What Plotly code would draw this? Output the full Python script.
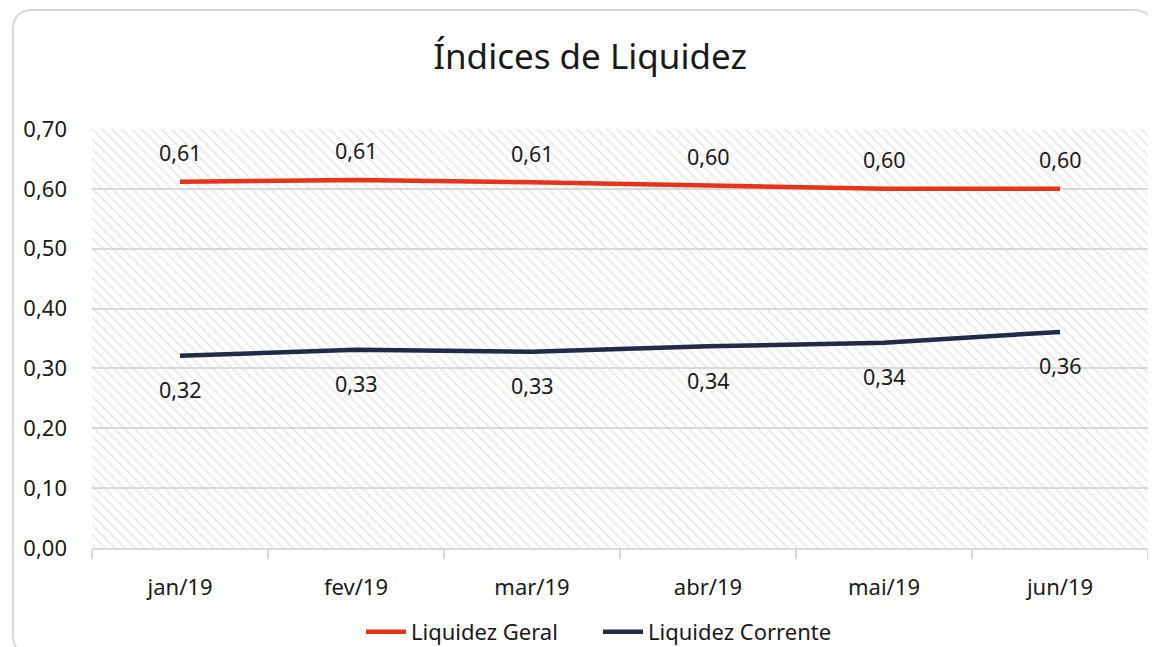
import plotly.graph_objects as go

months = ["jan/19", "fev/19", "mar/19", "abr/19", "mai/19", "jun/19"]
liquidez_geral = [0.612, 0.615, 0.611, 0.605, 0.600, 0.600]
liquidez_corrente = [0.321, 0.331, 0.328, 0.337, 0.343, 0.361]
y_ticks = [0.0, 0.1, 0.2, 0.3, 0.4, 0.5, 0.6, 0.7]

RED = "#e8321a"
NAVY = "#232a48"
GRID = "#d9d9d9"
TXT = "#1a1a1a"
FONT = "Noto Sans, Open Sans, sans-serif"

# page body has an 8px margin: figure pixel = screen pixel - 8
OFF = 8
W, H = 1156 - OFF, 647 - OFF
ML, MT = 92 - OFF, 129 - OFF
MR = W - (1148 - OFF)
MB = H - (548 - OFF)
PW, PH = W - ML - MR, H - MT - MB

fig = go.Figure()

# hatched plot-area background (decoration) on hidden main axes
fig.add_trace(go.Scatter(
    x=[0, 1, 1, 0, 0], y=[0, 0, 1, 1, 0], xaxis="x", yaxis="y",
    mode="none", fill="toself", fillcolor="rgba(0,0,0,0)",
    fillpattern=dict(shape="\\", fgcolor="#d4d4d4", bgcolor="rgba(0,0,0,0)",
                     size=7, solidity=0.25),
    hoverinfo="skip", showlegend=False,
))

fig.add_trace(go.Scatter(
    x=months, y=liquidez_geral, name="Liquidez Geral", xaxis="x2", yaxis="y2",
    mode="lines", line=dict(color=RED, width=4.5),
))
fig.add_trace(go.Scatter(
    x=months, y=liquidez_corrente, name="Liquidez Corrente", xaxis="x2", yaxis="y2",
    mode="lines", line=dict(color=NAVY, width=4.5),
))

def fmt(v):
    return f"{v:.2f}".replace(".", ",")

annotations = []
for m, v in zip(months, liquidez_geral):
    annotations.append(dict(x=m, y=v, xref="x2", yref="y2", text=fmt(v),
                            showarrow=False, yshift=29,
                            font=dict(family=FONT, size=21.5, color=TXT)))
for m, v in zip(months, liquidez_corrente):
    annotations.append(dict(x=m, y=v, xref="x2", yref="y2", text=fmt(v),
                            showarrow=False, yshift=-34,
                            font=dict(family=FONT, size=21.5, color=TXT)))

# rounded chart border (screen px 13..1153 x 10..655)
def px_x(sx):
    return (sx - OFF - ML) / PW

def px_y(sy):
    return (MT + PH - (sy - OFF)) / PH

x0, x1 = px_x(13), px_x(1153)
y1, y0 = px_y(10), px_y(655)
rx, ry = 20 / PW, 20 / PH
path = (f"M {x0+rx},{y1} L {x1-rx},{y1} Q {x1},{y1} {x1},{y1-ry} "
        f"L {x1},{y0+ry} Q {x1},{y0} {x1-rx},{y0} L {x0+rx},{y0} "
        f"Q {x0},{y0} {x0},{y0+ry} L {x0},{y1-ry} Q {x0},{y1} {x0+rx},{y1} Z")

fig.update_layout(
    width=W, height=H,
    margin=dict(l=ML, r=MR, t=MT, b=MB, autoexpand=False),
    paper_bgcolor="white", plot_bgcolor="white",
    separators=",.",
    font=dict(family=FONT, size=22, color=TXT),
    title=dict(text="Índices de Liquidez", x=(590 - OFF) / W, xanchor="center",
               y=1 - (57 - OFF) / H, yanchor="middle",
               font=dict(family=FONT, size=35, color=TXT)),
    xaxis=dict(range=[0, 1], visible=False, showgrid=False, fixedrange=True,
               automargin=False),
    yaxis=dict(range=[0, 1], visible=False, showgrid=False, fixedrange=True,
               automargin=False),
    xaxis2=dict(overlaying="x", type="category", categoryarray=months,
                range=[-0.5, 5.5], tickson="boundaries", ticks="outside",
                ticklen=9, tickcolor=GRID, tickwidth=2,
                showline=True, linecolor=GRID, linewidth=2,
                showgrid=False, ticklabelstandoff=19, automargin=False,
                tickfont=dict(family=FONT, size=22, color=TXT)),
    yaxis2=dict(overlaying="y", range=[0, 0.7], tickvals=y_ticks,
                tickformat=".2f", showgrid=True, gridcolor=GRID, gridwidth=1.5,
                zeroline=False, showline=False, ticks="",
                ticklabelstandoff=24, automargin=False,
                tickfont=dict(family=FONT, size=22, color=TXT)),
    legend=dict(orientation="h", x=px_x(598), xanchor="center", y=px_y(632),
                yanchor="middle", font=dict(family=FONT, size=22, color=TXT),
                bgcolor="rgba(0,0,0,0)", itemwidth=40,
                entrywidth=182, entrywidthmode="pixels"),
    annotations=annotations,
    shapes=[dict(type="path", path=path, xref="paper", yref="paper",
                 line=dict(color="#d9d9d9", width=2), fillcolor="rgba(0,0,0,0)",
                 layer="above")],
    showlegend=True,
)

fig.write_html("out.html")
